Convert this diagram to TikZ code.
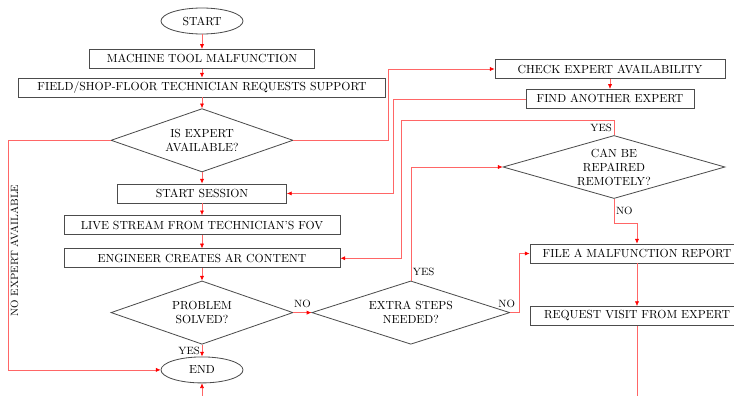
\documentclass[tikz,border=0pt]{standalone}
\usepackage{tikz}
\usetikzlibrary{positioning, shapes.geometric, arrows.meta}

\begin{document}
\begin{tikzpicture}[
      x=0.03cm, y=-0.03cm,
      node distance=0.33cm,
      box/.style={draw=black!70, line width=0.7pt, minimum height=0.57cm,
                  inner sep=1pt, align=center},
      decision/.style={draw=black!70, line width=0.7pt, diamond, aspect=2.8,
                  inner sep=0pt, minimum width=5.46cm, minimum height=1.9cm,
                  align=center},
      term/.style={draw=black!70, line width=0.7pt, ellipse,
                  minimum width=2.46cm, minimum height=0.78cm},
      flow/.style={red!60, line width=0.5pt,
                  -{Latex[length=4pt, width=3.5pt, color=red]}},
      plain/.style={red!60, line width=0.5pt},
      lbl/.style={font=\small, text=black, inner sep=1.5pt},
    ]
    \useasboundingbox (0,0) rectangle (734,395);
    \clip (0,0) rectangle (734,395);

    % ── main column ──
    \node[term] (start) at (202,21) {START};
    \node[box, minimum width=6.75cm, below=0.435cm of start] (malf) {MACHINE TOOL MALFUNCTION};
    \node[box, minimum width=11.01cm, below=0.265cm of malf] (request) {FIELD/SHOP-FLOOR TECHNICIAN REQUESTS SUPPORT};
    \node[decision, below=0.325cm of request] (avail) {IS EXPERT\\AVAILABLE?};
    \node[box, minimum width=5.07cm, below=0.335cm of avail] (session) {START SESSION};
    \node[box, minimum width=8.28cm, below=0.355cm of session] (live) {LIVE STREAM FROM TECHNICIAN'S FOV};
    \node[box, minimum width=8.28cm, below=0.4cm of live] (arcontent) {ENGINEER CREATES AR CONTENT};
    \node[decision, below=0.37cm of arcontent] (solved) {PROBLEM\\SOLVED?};
    \node[term, below=0.355cm of solved] (end) {END};

    % ── expert search ──
    \node[box, minimum width=6.9cm] (check) at (610,69) {CHECK EXPERT AVAILABILITY};
    \node[box, minimum width=5.04cm, below=0.3cm of check] (another) {FIND ANOTHER EXPERT};

    % ── extra steps / remote repair ──
    \node[decision, minimum width=5.94cm, right=0.54cm of solved] (extra) {EXTRA STEPS\\NEEDED?};
    \node[decision, minimum width=6.66cm, minimum height=1.89cm] (remote) at (614,167) {CAN BE\\REPAIRED\\REMOTELY?};
    \node[box, minimum width=6.42cm] (report) at (637,253.5) {FILE A MALFUNCTION REPORT};
    \node[box, minimum width=6.42cm, below=1.28cm of report] (visit) {REQUEST VISIT FROM EXPERT};

    % loose ends running off the bottom
    \coordinate (endin) at (202,400);
    \coordinate (visitout) at (637,400);

    % ── Arrows ──
    \draw[flow] (start) -- (malf);
    \draw[flow] (malf) -- (request);
    \draw[flow] (request) -- (avail);
    \draw[flow] (avail) -- (session);
    \draw[flow] (session) -- (live);
    \draw[flow] (live) -- (arcontent);
    \draw[flow] (arcontent) -- (solved);
    \draw[flow] (solved) -- node[lbl, left]{YES} (end);
    \draw[flow] (endin) -- (end);

    \draw[flow] (avail.west) -- ++(-102,0) |-
          node[lbl, pos=0.23, rotate=90, below=4pt]{NO EXPERT AVAILABLE} (end.west);
    \draw[flow] (avail.east) -- ++(95,0) |- (check.west);
    \draw[flow] (check) -- (another);
    \draw[flow] (another.west) -- ++(-132,0) |- (session.east);

    \draw[flow] (solved.east) -- node[lbl, above=2pt]{NO} (extra.west);
    \draw[flow] (extra.north) |- node[lbl, pos=0.04, right]{YES} (remote.west);
    \draw[flow] (extra.east) -- node[lbl, at start, above=2pt, xshift=-3pt]{NO} ++(9,0) |- (report.west);

    \draw[flow] (remote.north) -- node[lbl, left]{YES} ++(0,-15) -- ++(-213,0) |- (arcontent.east);
    \draw[flow] (remote.south) -- node[lbl, right]{NO} ++(0,24) -| (report.north);
    \draw[flow] (report) -- (visit);
    \draw[plain] (visit) -- (visitout);
  \end{tikzpicture}
\end{document}
